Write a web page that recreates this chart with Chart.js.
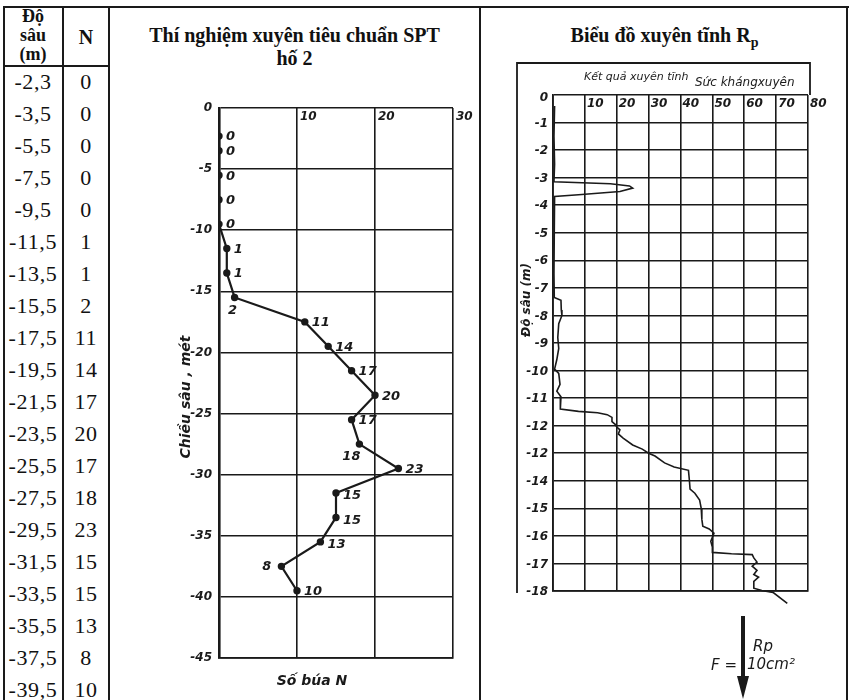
<!DOCTYPE html>
<html>
<head>
<meta charset="utf-8">
<script src="https://cdn.jsdelivr.net/npm/chart.js@4.4.1/dist/chart.umd.min.js"></script>
<style>
  body { margin: 0; background: #fff; }
  #page { position: relative; width: 849px; height: 700px; overflow: hidden; font-family: "Liberation Serif", serif; color: #111; }
  .ln { position: absolute; background: #1a1a1a; }
  .txt { position: absolute; text-align: center; white-space: nowrap; }
  .cell { position: absolute; height: 32px; line-height: 32px; text-align: center; font-size: 22px; letter-spacing: 0.6px; }
  canvas { position: absolute; left: 0; top: 0; }
</style>
</head>
<body>
<div id="page">
  <div class="ln" style="left:3px;top:6px;width:846px;height:2px"></div>
  <div class="ln" style="left:3px;top:6px;width:2px;height:694px"></div>
  <div class="ln" style="left:62px;top:6px;width:2px;height:694px"></div>
  <div class="ln" style="left:108px;top:6px;width:2px;height:694px"></div>
  <div class="ln" style="left:479px;top:6px;width:2px;height:694px"></div>
  <div class="ln" style="left:846px;top:6px;width:2px;height:694px"></div>
  <div class="ln" style="left:3px;top:65px;width:107px;height:2px"></div>

  <div class="txt" style="left:4px;top:7px;width:58px;font-size:18px;font-weight:bold;line-height:19px">Độ<br>sâu<br>(m)</div>
  <div class="txt" style="left:64px;top:26px;width:44px;font-size:20px;font-weight:bold">N</div>

  <div class="txt" style="left:110px;top:24px;width:369px;font-size:20px;font-weight:bold;line-height:23px">Thí nghiệm xuyên tiêu chuẩn SPT<br>hố 2</div>
  <div class="txt" style="left:481px;top:24px;width:367px;font-size:20px;font-weight:bold;line-height:23px">Biểu đồ xuyên tĩnh R<sub style="font-size:14px">p</sub></div>

  <div id="rows"></div>
  <canvas id="spt" width="849" height="700"></canvas>
  <canvas id="rp" width="849" height="700"></canvas>
</div>
<script>
// SPT bore 2: depth (m) and blow count N
const depthRows = [-2.3, -3.5, -5.5, -7.5, -9.5, -11.5, -13.5, -15.5, -17.5, -19.5,
                   -21.5, -23.5, -25.5, -27.5, -29.5, -31.5, -33.5, -35.5, -37.5, -39.5];
const blowCounts = [0, 0, 0, 0, 0, 1, 1, 2, 11, 14, 17, 20, 17, 18, 23, 15, 15, 13, 8, 10];
const sptDepthTicks = [0, -5, -10, -15, -20, -25, -30, -35, -40, -45];
const sptCountTicks = [10, 20, 30];

// static cone penetration trace
const rpDepths = [-0.4, -1.5, -2.5, -3.15, -3.22, -3.3, -3.38, -3.5, -3.62, -3.68,
                  -5, -6.5, -7.35, -7.45, -7.8, -8.0, -8.3, -8.8, -9.2, -9.6,
                  -9.95, -10.1, -10.5, -10.75, -10.95, -11.4, -11.48, -11.53, -11.6, -11.7,
                  -11.85, -11.95, -12.05, -12.15, -12.3, -12.45, -12.7, -12.85, -13.0, -13.1,
                  -13.35, -13.5, -13.62, -14.0, -14.3, -14.45, -14.7, -15.0, -15.4, -15.65,
                  -15.75, -15.9, -16.05, -16.2, -16.4, -16.6, -16.65, -16.68, -16.8, -16.95,
                  -17.1, -17.25, -17.4, -17.5, -17.65, -17.9, -17.98, -18.05, -18.45];
const rpValues = [0.5, 0.3, 0.5, 0.3, 18, 24, 25, 21, 8, 0.5,
                  0.4, 0.3, 0.4, 2.5, 2.6, 2.8, 1.8, 1.5, 1.8, 1.2,
                  0.5, 1.8, 2.2, 1.2, 2.5, 2.3, 8, 14, 17, 18.5,
                  18.5, 19.5, 20, 21, 20.5, 22, 25, 28, 30, 32,
                  35, 38, 42.5, 42.8, 43, 44.5, 46, 46.5, 46.7, 47,
                  49, 50.5, 50, 49.5, 50, 50, 56, 62.5, 63, 64,
                  62.5, 64, 63, 64.5, 63, 63, 65.5, 69, 73.5];
const rpDepthTicks = [0, -1, -2, -3, -4, -5, -6, -7, -8, -9, -10, -11, -12, -13, -14, -15, -16, -17, -18];
const rpDepthTickLabels = ['0', '-1', '-2', '-3', '-4', '-5', '-6', '-7', '-8', '-9', '-10',
                           '-11', '-12', '-12', '-14', '-15', '-16', '-17', '-18'];
const rpTicks = [10, 20, 30, 40, 50, 60, 70, 80];

const INK = '#1a1a1a';
const HAND = 'italic bold 12px "DejaVu Sans", sans-serif';

// left table
const rows = document.getElementById('rows');
depthRows.forEach((d, i) => {
    const top = 66 + i * 32;
    rows.insertAdjacentHTML('beforeend',
        `<div class="cell" style="left:4px;top:${top}px;width:58px">${d.toFixed(1).replace('.', ',')}</div>` +
        `<div class="cell" style="left:64px;top:${top}px;width:44px">${blowCounts[i]}</div>`);
});

const sptDecor = {
    id: 'sptDecor',
    afterDraw(chart) {
        const { ctx, chartArea: a, scales: { x, y } } = chart;
        ctx.save();
        ctx.fillStyle = INK;
        ctx.font = HAND;
        ctx.textAlign = 'right';
        ctx.textBaseline = 'middle';
        sptDepthTicks.forEach(v => ctx.fillText(String(v), a.left - 7, y.getPixelForValue(v)));
        ctx.textAlign = 'left';
        ctx.textBaseline = 'top';
        sptCountTicks.forEach(v => ctx.fillText(String(v), x.getPixelForValue(v) + 3, a.top + 3));

        // value next to each point
        const below = { 7: [-2, 13], 13: [-8, 13] };
        const left = { 18: true };
        ctx.font = 'italic bold 13px "DejaVu Sans", sans-serif';
        ctx.textBaseline = 'middle';
        chart.getDatasetMeta(0).data.forEach((pt, i) => {
            const s = String(blowCounts[i]);
            if (below[i]) {
                ctx.textAlign = 'center';
                ctx.fillText(s, pt.x + below[i][0], pt.y + below[i][1]);
            } else if (left[i]) {
                ctx.textAlign = 'right';
                ctx.fillText(s, pt.x - 10, pt.y);
            } else {
                ctx.textAlign = 'left';
                ctx.fillText(s, pt.x + 7, pt.y + (i >= 15 && i <= 17 ? 3 : 1));
            }
        });

        ctx.font = 'italic bold 14px "DejaVu Sans", sans-serif';
        ctx.textAlign = 'center';
        ctx.fillText('Số búa N', (a.left + a.right) / 2 - 24, a.bottom + 23);
        ctx.translate(a.left - 33, 397);
        ctx.rotate(-Math.PI / 2);
        ctx.fillText('Chiều sâu , mét', 0, 0);
        ctx.restore();
    }
};

new Chart(document.getElementById('spt'), {
    type: 'scatter',
    data: {
        datasets: [{
            data: depthRows.map((d, i) => ({ x: blowCounts[i], y: d })),
            showLine: true,
            borderColor: INK,
            backgroundColor: INK,
            borderWidth: 2.2,
            pointRadius: 2.6,
            pointHoverRadius: 2.6
        }]
    },
    options: {
        responsive: false,
        animation: false,
        layout: { padding: { left: 219, right: 396, top: 108, bottom: 42 } },
        plugins: { legend: { display: false }, tooltip: { enabled: false } },
        scales: {
            x: {
                type: 'linear', min: 0, max: 30,
                ticks: { display: false, stepSize: 10 },
                grid: { color: INK, lineWidth: 1.6, drawTicks: false },
                border: { color: INK, width: 1.8 }
            },
            y: {
                type: 'linear', min: -45, max: 0,
                ticks: { display: false, stepSize: 5 },
                grid: { color: INK, lineWidth: 1.6, drawTicks: false },
                border: { color: INK, width: 2.6 }
            }
        }
    },
    plugins: [sptDecor]
});

const rpDecor = {
    id: 'rpDecor',
    afterDraw(chart) {
        const { ctx, chartArea: a, scales: { x, y } } = chart;
        ctx.save();
        ctx.strokeStyle = INK;
        ctx.lineWidth = 1.8;
        ctx.beginPath();
        ctx.moveTo(a.left - 36, a.bottom + 2);
        ctx.lineTo(a.left - 36, a.top - 32);
        ctx.lineTo(a.right + 2, a.top - 32);
        ctx.lineTo(a.right + 2, a.top);
        ctx.stroke();

        ctx.fillStyle = INK;
        ctx.font = 'italic 11px "DejaVu Sans", sans-serif';
        ctx.textAlign = 'left';
        ctx.textBaseline = 'middle';
        ctx.fillText('Kết quả xuyên tĩnh', a.left + 31, a.top - 18);
        ctx.font = 'italic 12px "DejaVu Sans", sans-serif';
        ctx.fillText('Sức khángxuyên', a.left + 142, a.top - 12);

        ctx.font = HAND;
        ctx.textAlign = 'right';
        rpDepthTicks.forEach((v, i) => ctx.fillText(rpDepthTickLabels[i], a.left - 5, y.getPixelForValue(v) + (i === 0 ? 3 : 1)));
        ctx.textAlign = 'left';
        ctx.textBaseline = 'top';
        rpTicks.forEach(v => ctx.fillText(String(v), x.getPixelForValue(v) + 2, a.top + 3));

        ctx.textBaseline = 'middle';
        ctx.textAlign = 'center';
        ctx.translate(a.left - 26, 300);
        ctx.rotate(-Math.PI / 2);
        ctx.fillText('Độ sâu (m)', 0, 0);
        ctx.restore();

        // force arrow below the plot
        ctx.save();
        const ax = 743;
        ctx.strokeStyle = INK;
        ctx.fillStyle = INK;
        ctx.lineWidth = 4;
        ctx.beginPath();
        ctx.moveTo(ax, 616);
        ctx.lineTo(ax, 680);
        ctx.stroke();
        ctx.beginPath();
        ctx.moveTo(ax - 6, 676);
        ctx.lineTo(ax + 6, 676);
        ctx.lineTo(ax, 699);
        ctx.closePath();
        ctx.fill();
        ctx.font = 'italic 15px "DejaVu Sans", sans-serif';
        ctx.textBaseline = 'middle';
        ctx.textAlign = 'left';
        ctx.fillText('Rp', ax + 10, 647);
        ctx.fillText('10cm²', ax + 4, 665);
        ctx.textAlign = 'right';
        ctx.fillText('F =', ax - 6, 666);
        ctx.restore();
    }
};

new Chart(document.getElementById('rp'), {
    type: 'scatter',
    data: {
        datasets: [{
            data: rpDepths.map((d, i) => ({ x: rpValues[i], y: d })),
            showLine: true,
            borderColor: INK,
            borderWidth: 1.6,
            pointRadius: 0,
            clip: false
        }]
    },
    options: {
        responsive: false,
        animation: false,
        layout: { padding: { left: 553, right: 41, top: 95, bottom: 109 } },
        plugins: { legend: { display: false }, tooltip: { enabled: false } },
        scales: {
            x: {
                type: 'linear', min: 0, max: 80,
                ticks: { display: false, stepSize: 10 },
                grid: { color: INK, lineWidth: 1.6, drawTicks: false },
                border: { color: INK, width: 1.8 }
            },
            y: {
                type: 'linear', min: -18, max: 0,
                ticks: { display: false, stepSize: 1 },
                grid: { color: INK, lineWidth: 1.6, drawTicks: false },
                border: { color: INK, width: 1.8 }
            }
        }
    },
    plugins: [rpDecor]
});
</script>
</body>
</html>
